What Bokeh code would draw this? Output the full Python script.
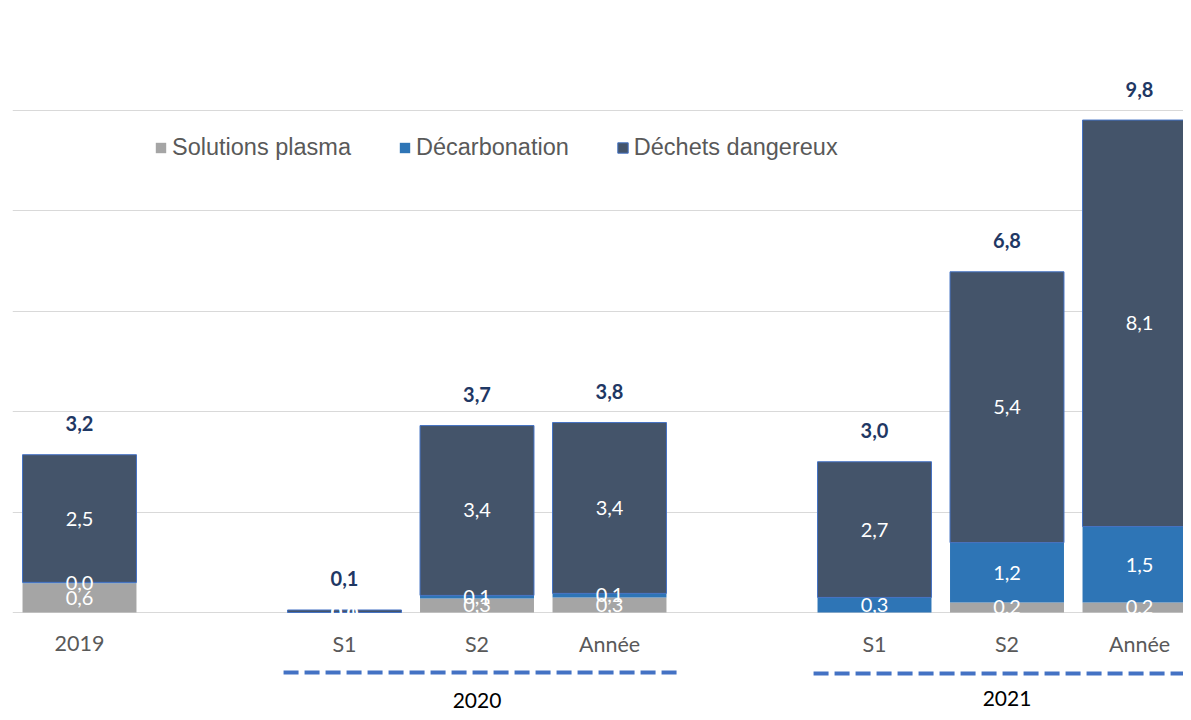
from bokeh.plotting import figure
from bokeh.models import ColumnDataSource, FixedTicker, Legend, LegendItem, Range1d
from bokeh.core.properties import value
from bokeh.embed import file_html
from bokeh.resources import INLINE

# ---------------- data ----------------
categories = ["2019", "", "S1", "S2", "Année", "", "S1", "S2", "Année"]
group_labels = ["", "2020", "2021"]
series_names = ["Solutions plasma", "Décarbonation", "Déchets dangereux"]
plasma = [0.58, None, 0.0, 0.28, 0.30, None, None, 0.20, 0.20]
decarbonation = [0.02, None, 0.0, 0.06, 0.08, None, 0.30, 1.19, 1.51]
dechets = [2.54, None, 0.05, 3.38, 3.40, None, 2.70, 5.39, 8.09]
totals = [3.2, None, 0.1, 3.7, 3.8, None, 3.0, 6.8, 9.8]
y_ticks = [0, 2, 4, 6, 8, 10, 12]

# ---------------- style ----------------
colors = ["#A5A5A5", "#2E75B6", "#44546A"]
outline = [None, None, "#4472C4"]
LABEL_FONT = value("Lato")
PX_PER_UNIT = 50.25
BAR_W = 0.86
W, H = 1183, 712
LEFT, TOP = 12, 9
X0 = -0.5057
Y1 = 12.0
x_end = X0 + (W - LEFT) / 132.5
y_start = Y1 - (H - TOP) / PX_PER_UNIT


def fmt(v):
    return f"{v:.1f}".replace(".", ",")


p = figure(width=W, height=H, output_backend="svg", toolbar_location=None,
           x_range=Range1d(X0, x_end), y_range=Range1d(y_start, Y1),
           min_border_left=LEFT, min_border_right=0, min_border_top=TOP, min_border_bottom=0)
p.outline_line_color = None
p.xaxis.visible = False
p.yaxis.visible = False
p.xgrid.visible = False
p.ygrid.ticker = FixedTicker(ticks=y_ticks)
p.ygrid.grid_line_color = "#D9D9D9"
p.ygrid.grid_line_width = 1

# stacked bars
cum = [0.0] * len(categories)
renderers = []
label_srcs = []
for name, vals, col, oc in zip(series_names, [plasma, decarbonation, dechets], colors, outline):
    xs, bots, tops, mids, labs = [], [], [], [], []
    for i, v in enumerate(vals):
        if v is None:
            continue
        xs.append(i)
        bots.append(cum[i])
        tops.append(cum[i] + v)
        mids.append(cum[i] + v / 2)
        labs.append(fmt(v))
        cum[i] += v
    src = ColumnDataSource(dict(x=xs, bottom=bots, top=tops, mid=mids, lab=labs))
    r = p.vbar(x="x", width=BAR_W, bottom="bottom", top="top", source=src,
               fill_color=col, line_color=oc, line_width=1)
    renderers.append(r)
    label_srcs.append(src)

# segment labels
for src in label_srcs:
    p.text(x="x", y="mid", text="lab", source=src, text_color="white",
           text_font=LABEL_FONT, text_font_size="20px",
           text_align="center", text_baseline="middle")

# totals
tx = [i for i, t in enumerate(totals) if t is not None]
tsrc = ColumnDataSource(dict(x=tx, y=[cum[i] for i in tx],
                             lab=[fmt(totals[i]) for i in tx]))
p.text(x="x", y="y", text="lab", source=tsrc, text_color="#1F3864",
       text_font=LABEL_FONT, text_font_size="20px", text_font_style="bold",
       text_align="center", text_baseline="middle", y_offset=-31)

# category labels
cx = [i for i, c in enumerate(categories) if c]
csrc = ColumnDataSource(dict(x=cx, y=[0] * len(cx), lab=[categories[i] for i in cx]))
p.text(x="x", y="y", text="lab", source=csrc, text_color="#595959",
       text_font=LABEL_FONT, text_font_size="21.5px",
       text_align="center", text_baseline="middle", y_offset=31)

# groups (split on blank spacers)
groups = []
cur = []
for i, c in enumerate(categories):
    if c:
        cur.append(i)
    else:
        groups.append(cur)
        cur = []
groups.append(cur)

line_y = [-60 / PX_PER_UNIT, -61 / PX_PER_UNIT]
label_off = [88, 86]
k = 0
for g, gl in zip(groups, group_labels):
    if not gl:
        continue
    x0 = g[0] - 0.46
    x1 = g[-1] + 0.53
    p.segment(x0=[x0], y0=[line_y[k]], x1=[x1], y1=[line_y[k]],
              line_color="#4472C4", line_width=4, line_dash="15 6")
    mid = g[len(g) // 2]
    p.text(x=[mid], y=[0], text=[gl], text_color="#000000",
           text_font=LABEL_FONT, text_font_size="21px",
           text_align="center", text_baseline="middle", y_offset=label_off[k])
    k += 1

legend = Legend(items=[LegendItem(label=n, renderers=[r]) for n, r in zip(series_names, renderers)],
                orientation="horizontal", location=(142, 551),
                glyph_width=13, glyph_height=13, label_standoff=5, spacing=47,
                padding=0, margin=0, border_line_color=None, background_fill_alpha=0,
                label_text_font="Liberation Sans", label_text_font_size="23.5px",
                label_text_color="#595959", label_height=28)
p.add_layout(legend)

open("out.html", "w").write(file_html(p, INLINE))
